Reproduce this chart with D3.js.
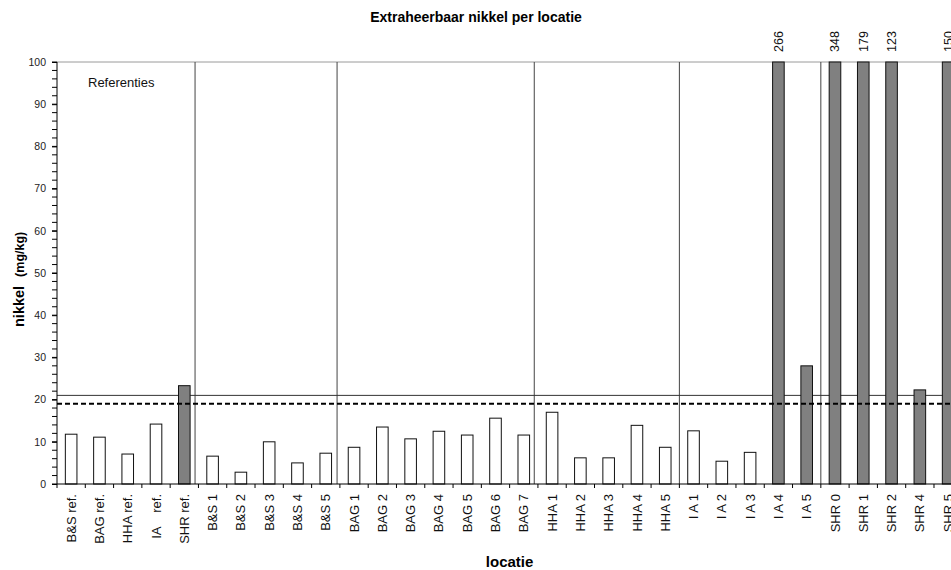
<!DOCTYPE html>
<html>
<head>
<meta charset="utf-8">
<script src="https://cdn.jsdelivr.net/npm/d3@7/dist/d3.min.js"></script>
<style>
  html, body { margin: 0; padding: 0; background: #fff; }
  svg { display: block; font-family: "Liberation Sans", Arial, sans-serif; }
</style>
</head>
<body>
<svg id="chart" width="951" height="570"></svg>
<script>
// ---- data ----
const categories = ["B&S ref.", "BAG ref.", "HHA ref.", "IA    ref.", "SHR ref.",
  "B&S 1", "B&S 2", "B&S 3", "B&S 4", "B&S 5",
  "BAG 1", "BAG 2", "BAG 3", "BAG 4", "BAG 5", "BAG 6", "BAG 7",
  "HHA 1", "HHA 2", "HHA 3", "HHA 4", "HHA 5",
  "I A 1", "I A 2", "I A 3", "I A 4", "I A 5",
  "SHR 0", "SHR 1", "SHR 2", "SHR 4", "SHR 5"];
const values = [11.8, 11.1, 7.1, 14.2, 23.3,
  6.6, 2.8, 10.0, 5.0, 7.3,
  8.7, 13.5, 10.7, 12.5, 11.6, 15.6, 11.6,
  17.0, 6.2, 6.2, 13.9, 8.7,
  12.6, 5.4, 7.5, 266, 28.0,
  348, 179, 123, 22.3, 150];
const limitSolid = 21;   // solid reference line
const limitDashed = 19;  // dashed reference line
const separators = [4.88, 9.9, 16.87, 22, 27]; // group dividers, in category units
const yMajorTicks = [0, 10, 20, 30, 40, 50, 60, 70, 80, 90, 100];
const yMinorTicks = d3.range(0, 101, 2);
const title = "Extraheerbaar nikkel per locatie";
const xTitle = "locatie";
const yTitleMain = "nikkel";
const yTitleUnit = "(mg/kg)";
const groupNote = "Referenties";

// ---- layout ----
const svg = d3.select("#chart");
const plotLeft = 57, plotTop = 62, plotBottom = 484;
const step = 28.29;
const plotRight = plotLeft + step * categories.length;
const yMax = 100;

const x = d3.scaleBand().domain(categories).range([plotLeft, plotRight])
  .paddingInner(0.59).paddingOuter(0.295);
const xi = d3.scaleLinear().domain([0, categories.length]).range([plotLeft, plotRight]);
const y = d3.scaleLinear().domain([0, yMax]).range([plotBottom, plotTop]);

// title
svg.append("text").attr("x", 476).attr("y", 22).attr("text-anchor", "middle")
  .attr("font-size", 14).attr("font-weight", "bold").text(title);

// top border of plot
svg.append("line").attr("x1", plotLeft).attr("x2", plotRight).attr("y1", plotTop).attr("y2", plotTop)
  .attr("stroke", "#9a9a9a").attr("stroke-width", 1);

// separators
svg.append("g").selectAll("line").data(separators).join("line")
  .attr("x1", d => xi(d)).attr("x2", d => xi(d))
  .attr("y1", plotTop).attr("y2", plotBottom)
  .attr("stroke", "#444").attr("stroke-width", 1);

// solid reference line
svg.append("line").attr("x1", plotLeft).attr("x2", plotRight)
  .attr("y1", y(limitSolid)).attr("y2", y(limitSolid))
  .attr("stroke", "#333").attr("stroke-width", 1);

// bars
svg.append("g").selectAll("rect").data(categories).join("rect")
  .attr("x", d => x(d))
  .attr("width", x.bandwidth())
  .attr("y", (d, i) => y(Math.min(values[i], yMax)))
  .attr("height", (d, i) => y(0) - y(Math.min(values[i], yMax)))
  .attr("fill", (d, i) => values[i] > limitSolid ? "#808080" : "#ffffff")
  .attr("stroke", "#111").attr("stroke-width", 1);

// dashed reference line
svg.append("line").attr("x1", plotLeft).attr("x2", plotRight)
  .attr("y1", y(limitDashed)).attr("y2", y(limitDashed))
  .attr("stroke", "#000").attr("stroke-width", 2).attr("stroke-dasharray", "5,3");

// labels for off-scale values
svg.append("g").selectAll("text")
  .data(categories.map((c, i) => ({ c, v: values[i] })).filter(d => d.v > yMax))
  .join("text")
  .attr("transform", d => `translate(${x(d.c) + x.bandwidth() / 2},${plotTop - 10}) rotate(-90)`)
  .attr("dy", "0.35em").attr("font-size", 12.5).attr("fill", "#111")
  .text(d => d.v);

// y axis
const yAxisG = svg.append("g").attr("transform", `translate(${plotLeft},0)`);
yAxisG.selectAll("line.minor").data(yMinorTicks).join("line")
  .attr("class", "minor").attr("x1", -5).attr("x2", 0)
  .attr("y1", d => y(d)).attr("y2", d => y(d)).attr("stroke", "#000");
yAxisG.call(d3.axisLeft(y).tickValues(yMajorTicks).tickSize(5).tickPadding(6))
  .call(g => g.select(".domain").attr("d", `M0,${plotTop}V${plotBottom}`))
  .call(g => g.selectAll("text").attr("font-size", 10.5).attr("fill", "#222").attr("font-family", null));

// x axis
const xAxisG = svg.append("g").attr("transform", `translate(0,${plotBottom})`);
xAxisG.append("line").attr("x1", plotLeft).attr("x2", plotRight).attr("stroke", "#000");
xAxisG.selectAll("line.tick").data(d3.range(categories.length + 1)).join("line")
  .attr("class", "tick").attr("x1", d => xi(d)).attr("x2", d => xi(d))
  .attr("y1", 0).attr("y2", 4).attr("stroke", "#000");
xAxisG.selectAll("text").data(categories).join("text")
  .attr("transform", d => `translate(${x(d) + x.bandwidth() / 2},10) rotate(-90)`)
  .attr("text-anchor", "end").attr("dy", "0.35em")
  .attr("font-size", 13).attr("fill", "#111")
  .style("white-space", "pre")
  .text(d => d);

// axis titles
svg.append("text").attr("x", (plotLeft + plotRight) / 2).attr("y", 567).attr("text-anchor", "middle")
  .attr("font-size", 15).attr("font-weight", "bold").text(xTitle);

const yt = svg.append("text").attr("transform", "translate(24,327) rotate(-90)")
  .attr("font-weight", "bold");
yt.append("tspan").attr("font-size", 14.5).text(yTitleMain);
yt.append("tspan").attr("font-size", 12.5).attr("dx", 9).text(yTitleUnit);

// group note
svg.append("text").attr("x", 88).attr("y", 87).attr("font-size", 13).attr("fill", "#111")
  .text(groupNote);
</script>
</body>
</html>
